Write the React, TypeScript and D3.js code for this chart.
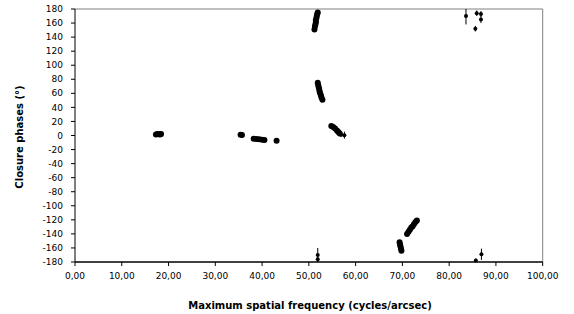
import React from "react";
import * as d3 from "d3";

const freqs = [
  17.3, 17.6, 17.9, 18.2, 18.4,
  35.4, 35.7,
  38.2, 38.8, 39.4, 40.0, 40.5,
  43.1,
  51.2, 51.3, 51.4, 51.5, 51.5, 51.6, 51.7, 51.8, 51.9,
  51.9, 52.0, 52.1, 52.2, 52.3, 52.4, 52.6, 52.7, 52.9,
  54.8, 55.2, 55.6, 56.0, 56.3, 56.6, 56.9, 57.6,
  69.4, 69.5, 69.6, 69.7, 69.8,
  71.0, 71.3, 71.6, 71.9, 72.2, 72.5, 72.8, 73.1,
  51.9, 51.9,
  83.6, 85.6, 85.9, 86.8, 86.8,
  85.7, 86.9,
];
const phases = [
  1.5, 2, 1.8, 1.5, 2,
  1, 0.8,
  -4.5, -5, -5.5, -6, -6.5,
  -7.5,
  151, 155, 158, 161, 164, 167, 170, 173, 175,
  75, 72, 69, 66, 63, 60, 57, 54, 51,
  13.5, 12, 10, 7, 5, 3, 1, 0.5,
  -152, -155, -158, -161, -164,
  -140, -137, -134, -131, -129, -126, -123, -121,
  -170, -176,
  170, 152, 174, 173, 165,
  -178, -169,
];
const errors = [
  1, 1, 1, 1, 1,
  1, 1,
  1, 1, 1, 1, 1,
  1,
  2, 2, 2, 2, 2, 2, 2, 2, 2,
  2, 2, 2, 2, 2, 2, 2, 2, 2,
  2, 2, 2, 2, 2, 2, 3, 5,
  2, 2, 2, 2, 2,
  2, 2, 2, 2, 2, 2, 2, 2,
  10, 3,
  12, 4, 4, 4, 5,
  3, 8,
];

const xTicks = d3.range(0, 101, 10);
const yTicks = d3.range(-180, 181, 20);

const W = 574, H = 314;
const m = { left: 75, right: 31.3, top: 9, bottom: 52 };

export default function App() {
  const x = d3.scaleLinear().domain([0, 100]).range([m.left, W - m.right]);
  const y = d3.scaleLinear().domain([-180, 180]).range([H - m.bottom, m.top]);
  const font = "'DejaVu Sans', Verdana, sans-serif";
  const fmt = (v: number) => v.toFixed(2).replace(".", ",");
  const pts = freqs.map((f, i) => ({ f, p: phases[i], e: errors[i] }));
  return (
    <svg width={W} height={H} style={{ position: "absolute", left: 0, top: 0, background: "#fff" }}>
      <rect x={0} y={0} width={W} height={H} fill="#fff" />
      {/* plot frame */}
      <line x1={x(0)} x2={x(100)} y1={y(180)} y2={y(180)} stroke="#808080" strokeWidth={1} />
      <line x1={x(100)} x2={x(100)} y1={y(180)} y2={y(-180)} stroke="#808080" strokeWidth={1} />
      {/* axes */}
      <line x1={x(0)} x2={x(0)} y1={y(180)} y2={y(-180)} stroke="#000" strokeWidth={1} />
      <line x1={x(0)} x2={x(100)} y1={y(-180)} y2={y(-180)} stroke="#000" strokeWidth={1.5} />
      {yTicks.map((t) => (
        <g key={"y" + t}>
          <line x1={x(0) - 4} x2={x(0)} y1={y(t)} y2={y(t)} stroke="#000" />
          <text x={63} y={y(t)} dy="0.35em" textAnchor="end" fontFamily={font} fontSize={9} fill="#000">
            {t}
          </text>
        </g>
      ))}
      {xTicks.map((t) => (
        <g key={"x" + t}>
          <line x1={x(t)} x2={x(t)} y1={y(-180)} y2={y(-180) + 4} stroke="#000" />
          <text x={x(t)} y={279} textAnchor="middle" fontFamily={font} fontSize={9} fill="#000">
            {fmt(t)}
          </text>
        </g>
      ))}
      {/* error bars and markers */}
      {pts.map((d, i) => (
        <g key={"p" + i}>
          <line
            x1={x(d.f)}
            x2={x(d.f)}
            y1={y(Math.min(180, d.p + d.e))}
            y2={y(Math.max(-180, d.p - d.e))}
            stroke="#000"
            strokeWidth={1}
          />
          <circle cx={x(d.f)} cy={y(d.p)} r={d.e >= 3 ? 2 : 3} fill="#000" />
        </g>
      ))}
      <text
        x={310}
        y={309}
        textAnchor="middle"
        fontFamily={font}
        fontSize={10}
        fontWeight="bold"
        fill="#000"
      >
        Maximum spatial frequency (cycles/arcsec)
      </text>
      <text
        transform={`translate(23,137) rotate(-90)`}
        textAnchor="middle"
        fontFamily={font}
        fontSize={10}
        fontWeight="bold"
        fill="#000"
      >
        Closure phases (°)
      </text>
    </svg>
  );
}
